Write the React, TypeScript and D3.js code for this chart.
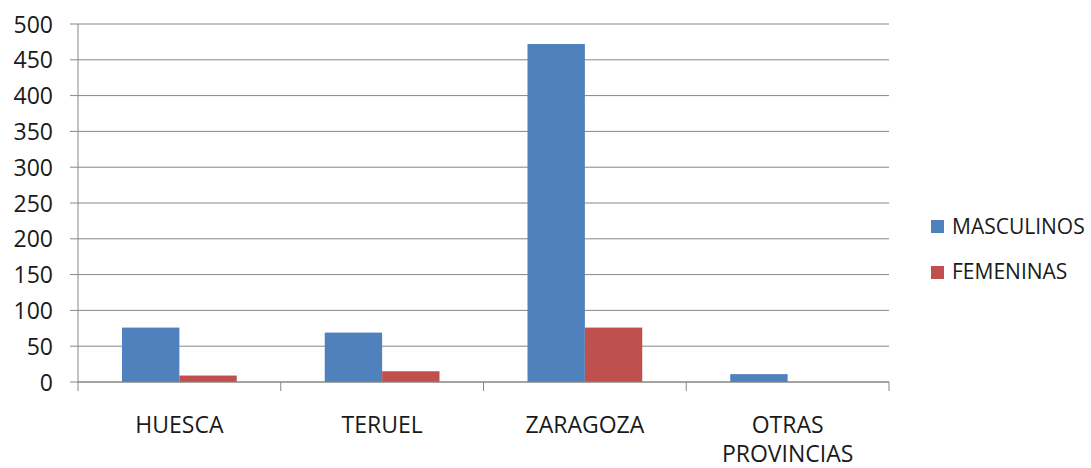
import React from "react";
import * as d3 from "d3";

const categories: string[][] = [["HUESCA"], ["TERUEL"], ["ZARAGOZA"], ["OTRAS", "PROVINCIAS"]];
const categoryKeys = ["HUESCA", "TERUEL", "ZARAGOZA", "OTRAS PROVINCIAS"];
const seriesNames = ["MASCULINOS", "FEMENINAS"];
const masculinos = [76, 69, 472, 11];
const femeninas = [9, 15, 76, 0];
const yTicks = [0, 50, 100, 150, 200, 250, 300, 350, 400, 450, 500];
const colors = ["#4F81BD", "#C0504D"];

const W = 1091;
const H = 468;
const plot = { left: 78, right: 889, top: 24, bottom: 382 };
const FONT = "'Open Sans', 'DejaVu Sans', sans-serif";
const GRID = "#868686";

export default function App() {
  const values = [masculinos, femeninas];
  const x0 = d3
    .scaleBand<string>()
    .domain(categoryKeys)
    .range([plot.left, plot.right])
    .paddingInner(0.434)
    .paddingOuter(0.217);
  const x1 = d3.scaleBand<string>().domain(seriesNames).range([0, x0.bandwidth()]).padding(0);
  const y = d3.scaleLinear().domain([0, 500]).range([plot.bottom, plot.top]);
  const step = (plot.right - plot.left) / categoryKeys.length;
  const boundaries = d3.range(categoryKeys.length + 1).map((i) => plot.left + i * step);

  return (
    <svg
      width={W}
      height={H}
      style={{ position: "absolute", left: 0, top: 0, background: "#fff" }}
      fontFamily={FONT}
    >
      <rect x={0} y={0} width={W} height={H} fill="#fff" />
      {yTicks.map((t) => (
        <g key={t}>
          <line x1={plot.left - 8} x2={plot.right} y1={y(t)} y2={y(t)} stroke={GRID} strokeWidth={1} />
          <text x={53} y={y(t) + 8.5} textAnchor="end" fontSize={23} fill="#1a1a1a">
            {t}
          </text>
        </g>
      ))}
      <line x1={plot.left} x2={plot.left} y1={plot.top} y2={plot.bottom} stroke={GRID} strokeWidth={1} />
      {categoryKeys.map((c, ci) =>
        seriesNames.map((s, si) => {
          const v = values[si][ci];
          if (v <= 0) return null;
          return (
            <rect
              key={c + s}
              x={(x0(c) as number) + (x1(s) as number)}
              y={y(v)}
              width={x1.bandwidth()}
              height={plot.bottom - y(v)}
              fill={colors[si]}
            />
          );
        })
      )}
      <line x1={plot.left} x2={plot.right} y1={plot.bottom} y2={plot.bottom} stroke={GRID} strokeWidth={1.2} />
      {boundaries.map((bx, i) => (
        <line key={i} x1={bx} x2={bx} y1={plot.bottom} y2={plot.bottom + 9} stroke={GRID} strokeWidth={1} />
      ))}
      {categoryKeys.map((c, ci) => {
        const cx = (x0(c) as number) + x0.bandwidth() / 2;
        return (
          <text key={c} x={cx} textAnchor="middle" fontSize={23} fill="#1a1a1a">
            {categories[ci].map((line, li) => (
              <tspan key={li} x={cx} y={433 + li * 29}>
                {line}
              </tspan>
            ))}
          </text>
        );
      })}
      {seriesNames.map((s, si) => (
        <g key={s}>
          <rect x={931} y={220 + si * 46} width={13} height={13} fill={colors[si]} />
          <text x={952} y={234 + si * 45} fontSize={21} fill="#1a1a1a">
            {s}
          </text>
        </g>
      ))}
    </svg>
  );
}
